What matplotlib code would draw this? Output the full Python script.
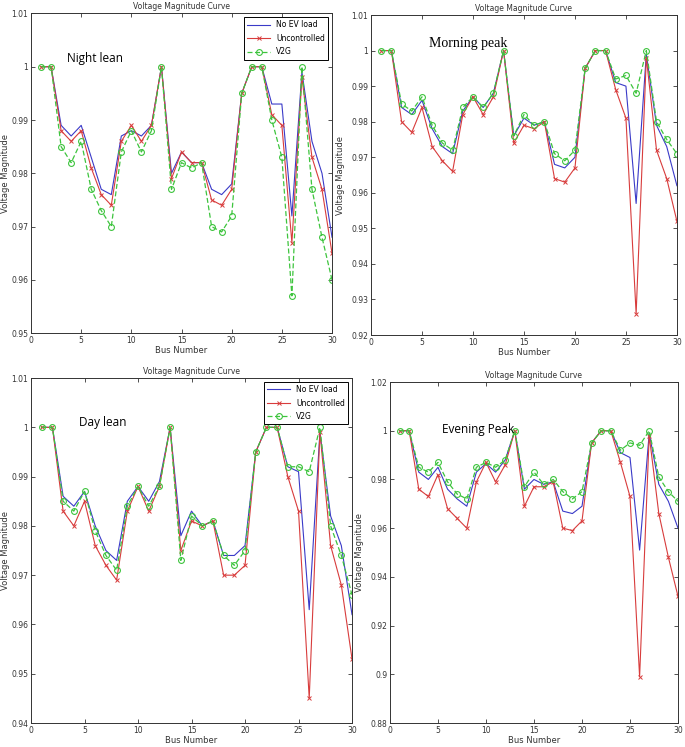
import matplotlib
matplotlib.use("Agg")
import matplotlib.pyplot as plt
import numpy as np

bus = list(range(1, 31))

# Night lean
night_noev = [1.0, 1.0, 0.989, 0.987, 0.989, 0.983, 0.977, 0.976, 0.987, 0.988,
              0.987, 0.989, 1.0, 0.980, 0.984, 0.982, 0.982, 0.977, 0.976, 0.978,
              0.995, 1.0, 1.0, 0.993, 0.993, 0.972, 0.999, 0.986, 0.980, 0.968]
night_unc = [1.0, 1.0, 0.988, 0.986, 0.988, 0.981, 0.976, 0.974, 0.986, 0.989,
             0.986, 0.989, 1.0, 0.979, 0.984, 0.982, 0.982, 0.975, 0.974, 0.977,
             0.995, 1.0, 1.0, 0.991, 0.989, 0.967, 0.998, 0.983, 0.977, 0.965]
night_v2g = [1.0, 1.0, 0.985, 0.982, 0.986, 0.977, 0.973, 0.970, 0.984, 0.988,
             0.984, 0.988, 1.0, 0.977, 0.982, 0.981, 0.982, 0.970, 0.969, 0.972,
             0.995, 1.0, 1.0, 0.990, 0.983, 0.957, 1.0, 0.977, 0.968, 0.960]

# Morning peak
morn_noev = [1.0, 1.0, 0.984, 0.982, 0.986, 0.978, 0.973, 0.971, 0.983, 0.987,
             0.984, 0.988, 1.0, 0.976, 0.981, 0.979, 0.980, 0.968, 0.967, 0.970,
             0.995, 1.0, 1.0, 0.991, 0.990, 0.957, 0.999, 0.979, 0.973, 0.962]
morn_unc = [1.0, 1.0, 0.980, 0.977, 0.984, 0.973, 0.969, 0.966, 0.982, 0.987,
            0.982, 0.987, 1.0, 0.974, 0.979, 0.978, 0.980, 0.964, 0.963, 0.967,
            0.995, 1.0, 1.0, 0.989, 0.981, 0.926, 0.998, 0.972, 0.964, 0.952]
morn_v2g = [1.0, 1.0, 0.985, 0.983, 0.987, 0.979, 0.974, 0.972, 0.984, 0.987,
            0.984, 0.988, 1.0, 0.976, 0.982, 0.979, 0.980, 0.971, 0.969, 0.972,
            0.995, 1.0, 1.0, 0.992, 0.993, 0.988, 1.0, 0.980, 0.975, 0.971]

# Day lean
day_noev = [1.0, 1.0, 0.986, 0.984, 0.987, 0.980, 0.975, 0.973, 0.985, 0.988,
            0.985, 0.989, 1.0, 0.978, 0.983, 0.980, 0.981, 0.974, 0.974, 0.976,
            0.995, 1.0, 1.0, 0.992, 0.991, 0.963, 0.999, 0.982, 0.976, 0.962]
day_unc = [1.0, 1.0, 0.983, 0.980, 0.985, 0.976, 0.972, 0.969, 0.983, 0.988,
           0.983, 0.988, 1.0, 0.975, 0.981, 0.980, 0.981, 0.970, 0.970, 0.972,
           0.995, 1.0, 1.0, 0.990, 0.983, 0.945, 0.999, 0.976, 0.968, 0.953]
day_v2g = [1.0, 1.0, 0.985, 0.983, 0.987, 0.979, 0.974, 0.971, 0.984, 0.988,
           0.984, 0.988, 1.0, 0.973, 0.982, 0.980, 0.981, 0.974, 0.972, 0.975,
           0.995, 1.0, 1.0, 0.992, 0.992, 0.991, 1.0, 0.980, 0.974, 0.966]

# Evening peak
eve_noev = [1.0, 1.0, 0.983, 0.980, 0.985, 0.976, 0.972, 0.969, 0.983, 0.9865,
            0.983, 0.988, 1.0, 0.976, 0.980, 0.978, 0.979, 0.967, 0.966, 0.969,
            0.995, 1.0, 1.0, 0.991, 0.989, 0.951, 0.999, 0.978, 0.971, 0.960]
eve_unc = [1.0, 1.0, 0.976, 0.973, 0.982, 0.968, 0.964, 0.960, 0.979, 0.987,
           0.979, 0.986, 1.0, 0.969, 0.977, 0.977, 0.979, 0.960, 0.959, 0.963,
           0.995, 1.0, 1.0, 0.987, 0.973, 0.899, 0.998, 0.966, 0.948, 0.932]
eve_v2g = [1.0, 1.0, 0.985, 0.983, 0.987, 0.979, 0.974, 0.972, 0.985, 0.987,
           0.985, 0.988, 1.0, 0.977, 0.983, 0.978, 0.980, 0.975, 0.972, 0.975,
           0.995, 1.0, 1.0, 0.992, 0.995, 0.994, 1.0, 0.981, 0.975, 0.971]

panels = [
    dict(rect=[0.0453, 0.554, 0.4394, 0.428], data=(night_noev, night_unc, night_v2g),
         ylim=(0.95, 1.01), yticks=[0.95, 0.96, 0.97, 0.98, 0.99, 1.0, 1.01],
         ylabels=['0.95', '0.96', '0.97', '0.98', '0.99', '1', '1.01'],
         label='Night lean', lpos=(0.12, 0.86), lfont=dict(family='Open Sans', size=8.5),
         legend=True, ylx=-0.07),
    dict(rect=[0.5416, 0.5515, 0.4466, 0.4284], data=(morn_noev, morn_unc, morn_v2g),
         ylim=(0.92, 1.01), yticks=[0.92, 0.93, 0.94, 0.95, 0.96, 0.97, 0.98, 0.99, 1.0, 1.01],
         ylabels=['0.92', '0.93', '0.94', '0.95', '0.96', '0.97', '0.98', '0.99', '1', '1.01'],
         label='Morning peak', lpos=(0.19, 0.91), lfont=dict(family='Liberation Serif', size=10),
         legend=False, ylx=-0.085),
    dict(rect=[0.0453, 0.0321, 0.4686, 0.4618], data=(day_noev, day_unc, day_v2g),
         ylim=(0.94, 1.01), yticks=[0.94, 0.95, 0.96, 0.97, 0.98, 0.99, 1.0, 1.01],
         ylabels=['0.94', '0.95', '0.96', '0.97', '0.98', '0.99', '1', '1.01'],
         label='Day lean', lpos=(0.15, 0.87), lfont=dict(family='Open Sans', size=8.5),
         legend=True, ylx=-0.065),
    dict(rect=[0.5693, 0.0321, 0.4205, 0.4565], data=(eve_noev, eve_unc, eve_v2g),
         ylim=(0.88, 1.02), yticks=[0.88, 0.9, 0.92, 0.94, 0.96, 0.98, 1.0, 1.02],
         ylabels=['0.88', '0.9', '0.92', '0.94', '0.96', '0.98', '1', '1.02'],
         label='Evening Peak', lpos=(0.18, 0.86), lfont=dict(family='Open Sans', size=8.5),
         legend=False, ylx=-0.09),
]

fig = plt.figure(figsize=(6.85, 7.47), dpi=100)
fig.patch.set_facecolor('white')

for p in panels:
    ax = fig.add_axes(p['rect'])
    noev, unc, v2g = p['data']
    ax.plot(bus, noev, color='#3a3ac8', lw=0.8, label='No EV load')
    ax.plot(bus, unc, color='#d83c3c', lw=0.8, marker='x', ms=2.5, mew=0.7,
            label='Uncontrolled')
    ax.plot(bus, v2g, color='#3dc43d', lw=0.9, ls='--', dashes=(4, 2), marker='o',
            ms=4.2, mfc='none', mew=0.8, label='V2G')
    ax.set_xlim(0, 30)
    ax.set_ylim(*p['ylim'])
    ax.set_xticks([0, 5, 10, 15, 20, 25, 30])
    ax.set_yticks(p['yticks'])
    ax.set_yticklabels(p['ylabels'])
    ax.tick_params(direction='in', top=True, right=True, labelsize=5.5, length=3,
                   width=0.6, pad=2, colors='#333333')
    for s in ax.spines.values():
        s.set_linewidth(0.7)
        s.set_color('#333333')
    ax.set_title('Voltage Magnitude Curve', fontsize=5.5, pad=3, color='#333333')
    ax.set_xlabel('Bus Number', fontsize=6, labelpad=1, color='#333333')
    ax.set_ylabel('Voltage Magnitude', fontsize=6, color='#333333')
    ax.yaxis.set_label_coords(p['ylx'], 0.5)
    ax.text(p['lpos'][0], p['lpos'][1], p['label'], transform=ax.transAxes,
            ha='left', va='center', **p['lfont'])
    if p['legend']:
        leg = ax.legend(loc='upper right', fontsize=5.5, fancybox=False,
                        edgecolor='black', framealpha=1, borderpad=0.4,
                        handlelength=3, labelspacing=0.6)
        leg.get_frame().set_linewidth(0.7)

fig.savefig('out.png', dpi=100)
